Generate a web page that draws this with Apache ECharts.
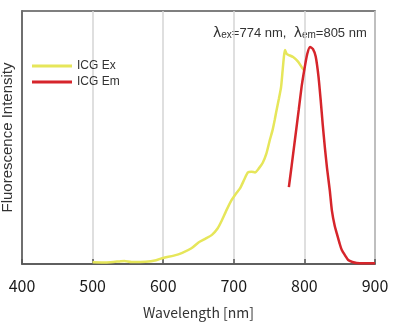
<!DOCTYPE html>
<html>
<head>
<meta charset="utf-8">
<script src="https://cdn.jsdelivr.net/npm/echarts@6/dist/echarts.min.js"></script>
<style>
html,body{margin:0;padding:0;background:#fff;}
#chart{width:400px;height:327px;}
</style>
</head>
<body>
<div id="chart"></div>
<script>
var xTicks = [400, 500, 600, 700, 800, 900];
var seriesNames = ['ICG Ex', 'ICG Em'];
var exWavelengths = [500, 520, 540, 545, 555, 575, 590, 600, 615, 627, 640, 650, 660, 669, 677, 683, 690, 697, 703, 709, 715, 720, 725, 730, 736, 741, 746, 751, 755, 758, 760, 764, 767, 769, 771, 772.5, 775, 778, 784, 791, 797, 800];
var exValues = [0.007, 0.006, 0.011, 0.012, 0.008, 0.009, 0.015, 0.024, 0.033, 0.044, 0.062, 0.085, 0.100, 0.115, 0.140, 0.172, 0.215, 0.253, 0.278, 0.300, 0.335, 0.362, 0.365, 0.362, 0.380, 0.400, 0.435, 0.490, 0.530, 0.570, 0.600, 0.655, 0.700, 0.760, 0.820, 0.846, 0.830, 0.826, 0.818, 0.800, 0.775, 0.765];
var emWavelengths = [778, 782, 787, 792, 796, 800, 804, 808, 812, 816, 820, 823, 826, 829, 832, 836, 839, 843, 846, 850, 853, 858, 862, 868, 874, 885, 900];
var emValues = [0.304, 0.390, 0.500, 0.610, 0.700, 0.770, 0.830, 0.858, 0.850, 0.820, 0.740, 0.650, 0.550, 0.460, 0.380, 0.290, 0.210, 0.150, 0.120, 0.080, 0.055, 0.032, 0.016, 0.008, 0.004, 0.003, 0.003];

function zip(xs, ys) { return xs.map(function (x, i) { return [x, ys[i]]; }); }

var chart = echarts.init(document.getElementById('chart'), null, {renderer: 'canvas'});
chart.setOption({
  animation: false,
  grid: {left: 22, right: 25, top: 11, bottom: 63, outerBoundsMode: 'none', containLabel: false,
    show: true, borderColor: '#555', borderWidth: 1.5, backgroundColor: 'transparent'},
  legend: {
    left: 32, top: 60, padding: 0, orient: 'vertical', itemWidth: 40, itemHeight: 3, itemGap: 4,
    icon: 'rect', data: seriesNames,
    textStyle: {fontFamily: 'Liberation Sans', fontSize: 12, color: '#333'}
  },
  xAxis: {
    type: 'value', min: 400, max: 900, interval: 100,
    name: 'Wavelength [nm]', nameLocation: 'middle', nameGap: 42,
    nameTextStyle: {fontFamily: 'Noto Sans CJK JP', fontSize: 14, color: '#333'},
    axisLine: {lineStyle: {color: '#555', width: 1.5}},
    axisTick: {inside: true, length: 5, lineStyle: {color: '#555', width: 1.5}},
    axisLabel: {margin: 14, fontFamily: 'Noto Sans CJK JP', fontSize: 16, color: '#1a1a1a',
      formatter: function (v) { return xTicks.indexOf(v) >= 0 ? String(v) : ''; }},
    splitLine: {show: true, lineStyle: {color: '#d4d4d4', width: 1.5}}
  },
  yAxis: {
    type: 'value', min: 0, max: 1,
    name: 'Fluorescence Intensity', nameLocation: 'middle', nameGap: 7,
    nameTextStyle: {fontFamily: 'Liberation Sans', fontSize: 15, color: '#333'},
    axisLine: {show: true, lineStyle: {color: '#555', width: 1.5}},
    axisTick: {show: false}, axisLabel: {show: false}, splitLine: {show: false}
  },
  graphic: [{
    type: 'text', left: 213, top: 26,
    style: {
      text: '{l|λ}{s|ex}{n|=774 nm,  }{l|λ}{s|em}{n|=805 nm}',
      rich: {
        l: {fontFamily: 'DejaVu Sans', fontSize: 14, fill: '#333'},
        s: {fontFamily: 'Liberation Sans', fontSize: 10, fill: '#333', verticalAlign: 'bottom', padding: [4, 0, 0, 0]},
        n: {fontFamily: 'Liberation Sans', fontSize: 13, fill: '#333'}
      }
    }
  }],
  series: [{
    name: seriesNames[0], type: 'line', data: zip(exWavelengths, exValues),
    showSymbol: false, smooth: 0.2, color: '#e6e65a',
    lineStyle: {width: 2.5, color: '#e6e65a'}, z: 2
  }, {
    name: seriesNames[1], type: 'line', data: zip(emWavelengths, emValues),
    showSymbol: false, smooth: 0.2, color: '#d6252b',
    lineStyle: {width: 2.5, color: '#d6252b'}, z: 3
  }]
});
</script>
</body>
</html>
